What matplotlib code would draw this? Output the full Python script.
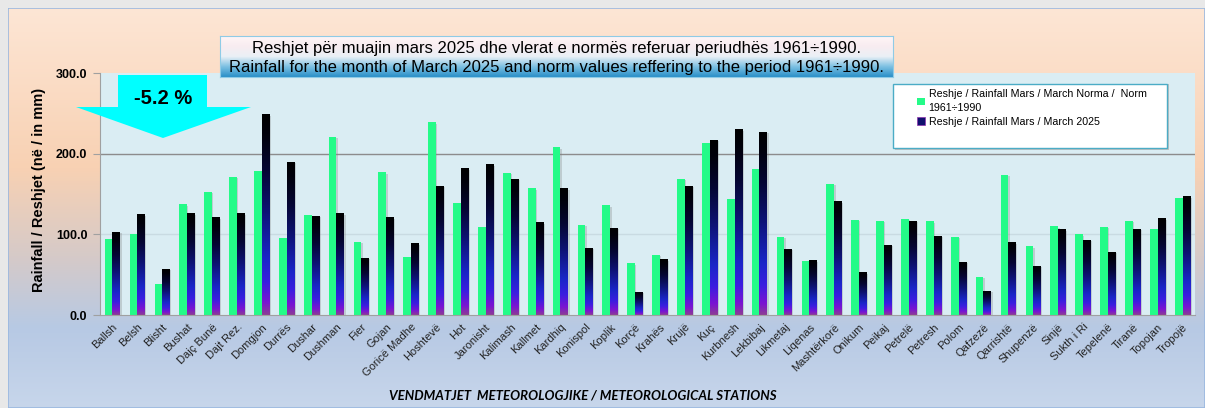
import numpy as np
import matplotlib
matplotlib.use('Agg')
import matplotlib.pyplot as plt
from matplotlib.colors import LinearSegmentedColormap
from matplotlib.patches import Polygon, Rectangle, Patch
import matplotlib.patheffects as pe

stations = ['Ballsh', 'Belsh', 'Blisht', 'Bushat', 'Dajç Bunë', 'Dajt Rez.', 'Domgjon',
            'Durrës', 'Dushar', 'Dushman', 'Fier', 'Gojan', 'Goricë Madhe', 'Hoshtevë',
            'Hot', 'Jaronisht', 'Kalimash', 'Kallmet', 'Kardhiq', 'Konispol', 'Koplik',
            'Korçë', 'Krahës', 'Krujë', 'Kuç', 'Kurbnesh', 'Lekbibaj', 'Likmetaj',
            'Liqenas', 'Mashtërkorë', 'Onikum', 'Peikaj', 'Petrelë', 'Petresh', 'Polom',
            'Qafzezë', 'Qarrishtë', 'Shupenzë', 'Sinjë', 'Sukth i Ri', 'Tepelenë',
            'Tiranë', 'Topojan', 'Tropojë']
norma = [94, 100, 38, 137, 153, 171, 178, 95, 124, 221, 91, 177, 72, 239, 139, 109,
         176, 157, 208, 112, 136, 64, 75, 169, 213, 144, 181, 97, 67, 163, 118, 117,
         119, 116, 97, 47, 174, 85, 110, 100, 109, 117, 106, 145]
mars_2025 = [103, 125, 57, 126, 121, 126, 249, 190, 123, 126, 71, 121, 89, 160, 182, 187,
             169, 115, 157, 83, 108, 29, 69, 160, 217, 230, 227, 82, 68, 141, 53, 87,
             117, 98, 66, 30, 90, 61, 106, 93, 78, 107, 120, 147]

title_txt = ('Reshjet për muajin mars 2025 dhe vlerat e normës referuar periudhës 1961÷1990.\n'
             'Rainfall for the month of March 2025 and norm values reffering to the period 1961÷1990.')
legend_labels = ['Reshje / Rainfall Mars / March Norma /  Norm\n1961÷1990',
                 'Reshje / Rainfall Mars / March 2025']
change_txt = '-5.2 %'

W, H = 1205, 408
plt.rcParams['font.family'] = ['Liberation Sans', 'DejaVu Sans']


def fx(px):
    return px / W


def fy(py):
    return 1 - py / H


fig = plt.figure(figsize=(W / 100, H / 100), dpi=100, facecolor='#e8e8e8')

# background gradient panel
bg = fig.add_axes([fx(8), 0, 1 - fx(8), fy(8)])
bg_cmap = LinearSegmentedColormap.from_list('bg', [
    (0.0, '#fde6d5'), (0.40, '#f8d1b3'), (0.62, '#d6cac8'),
    (0.80, '#b7c9e4'), (1.0, '#c7d6eb')])
bg.imshow(np.linspace(0, 1, 256)[:, None], aspect='auto', cmap=bg_cmap,
          extent=[0, 1, 0, 1])
bg.set_axis_off()
bg.add_patch(Rectangle((0, 0), 1, 1, transform=bg.transAxes, fill=False,
                       edgecolor='#9ab8e0', lw=1.2))

ax = fig.add_axes([fx(100), fy(315), fx(1195) - fx(100), fy(73) - fy(315)])
ax.set_facecolor('#daedf3')
x = np.arange(len(stations))
w = 0.31

ax.axhline(100, color='#c9dbe2', lw=1, zorder=0.5)
ax.axhline(200, color='#8c8c8c', lw=1, zorder=0.5)

shadow = [pe.SimplePatchShadow(offset=(1, -1), shadow_rgbFace='#808080', alpha=0.3),
          pe.Normal()]
ax.bar(x - w / 2, norma, w, color='#24fb88', zorder=2, path_effects=shadow)
dark = ax.bar(x + w / 2, mars_2025, w, color='#0a0a50', zorder=2, path_effects=shadow)

bar_cmap = LinearSegmentedColormap.from_list('bar', [
    (0.0, '#8c3c96'), (0.06, '#7a14d2'), (0.16, '#3a1ee0'), (0.28, '#1a26c8'),
    (0.50, '#0e147a'), (0.72, '#050634'), (0.9, '#01010c'), (1.0, '#000000')])
grad = np.linspace(0, 1, 128)[:, None]
for rect in dark:
    x0, h, bw = rect.get_x(), rect.get_height(), rect.get_width()
    im = ax.imshow(grad, origin='lower', aspect='auto', cmap=bar_cmap,
                   extent=[x0, x0 + bw, 0, h], zorder=2.1)
    im.set_clip_path(rect)

ax.set_xlim(-0.5, len(stations) - 0.5)
ax.set_ylim(0, 300)
ax.set_yticks([0, 100, 200, 300])
ax.set_yticklabels([f'{v:.1f}' for v in [0, 100, 200, 300]], fontsize=9,
                   fontweight='bold')
ax.set_xticks(x)
ax.set_xticklabels(stations, rotation=45, ha='right', rotation_mode='anchor',
                   fontsize=8, color='#222222')
ax.tick_params(axis='x', length=0, pad=5)
ax.tick_params(axis='y', length=5, color='#a0a0a0', pad=4)
for s in ['top', 'right']:
    ax.spines[s].set_visible(False)
for s in ['left', 'bottom']:
    ax.spines[s].set_color('#a0a0a0')

ax.set_ylabel('Rainfall / Reshjet (në / in mm)', fontsize=10.5, fontweight='bold')
ax.yaxis.set_label_coords((46 - 100) / 1095, (315 - 190) / 242)
ax.set_xlabel('VENDMATJET  METEOROLOGJIKE / METEOROLOGICAL STATIONS',
              fontsize=9.5, fontweight='bold', fontstyle='italic',
              family=['Lato', 'DejaVu Sans'])
ax.xaxis.set_label_coords((583 - 100) / 1095, (315 - 390) / 242)

# title box
tax = fig.add_axes([fx(220), fy(77), fx(893) - fx(220), fy(36) - fy(77)])
t_cmap = LinearSegmentedColormap.from_list('tb', [
    (0.0, '#2a8fc8'), (0.25, '#7cc0e2'), (0.5, '#eaf0f6'), (0.75, '#f8ecf0'),
    (1.0, '#fff6f6')])
tax.imshow(np.linspace(0, 1, 128)[:, None], origin='lower', aspect='auto', cmap=t_cmap,
           extent=[0, 1, 0, 1])
tax.set_xticks([])
tax.set_yticks([])
for s in tax.spines.values():
    s.set_color('#8fcbe6')
tax.text(0.5, 0.47, title_txt, ha='center', va='center', fontsize=12,
         linespacing=1.3, transform=tax.transAxes)

# change arrow
arrow_px = [(118, 75), (207, 75), (207, 107), (251, 107), (163, 138), (76, 107), (118, 107)]
fig.patches.append(Polygon([(fx(a), fy(b)) for a, b in arrow_px], closed=True,
                           transform=fig.transFigure, facecolor='#00ffff',
                           edgecolor='none', zorder=5))
fig.text(fx(163), fy(98), change_txt, ha='center', va='center', fontsize=14.5,
         fontweight='bold', zorder=6)

# legend
fig.patches.append(Rectangle((fx(895), fy(150)), fx(1169) - fx(895), fy(84) - fy(150),
                             transform=fig.transFigure, facecolor='#c0c0c0',
                             edgecolor='none', zorder=4))
fig.patches.append(Rectangle((fx(893), fy(148)), fx(1167) - fx(893), fy(84) - fy(148),
                             transform=fig.transFigure, facecolor='white',
                             edgecolor='#4bacc6', lw=1, zorder=4))
handles = [Patch(facecolor='#24fb88'), Patch(facecolor='#10106e', edgecolor='#9030b0', lw=0.5)]
leg = fig.legend(handles, legend_labels, loc='upper left',
                 bbox_to_anchor=(fx(913), fy(85)), frameon=False, fontsize=7.7,
                 handlelength=0.7, handleheight=0.7, handletextpad=0.35,
                 labelspacing=0.35, borderaxespad=0)
for t in leg.get_texts():
    t.set_linespacing(1.45)
leg.set_zorder(6)

fig.savefig('out.png', dpi=100, facecolor=fig.get_facecolor())
